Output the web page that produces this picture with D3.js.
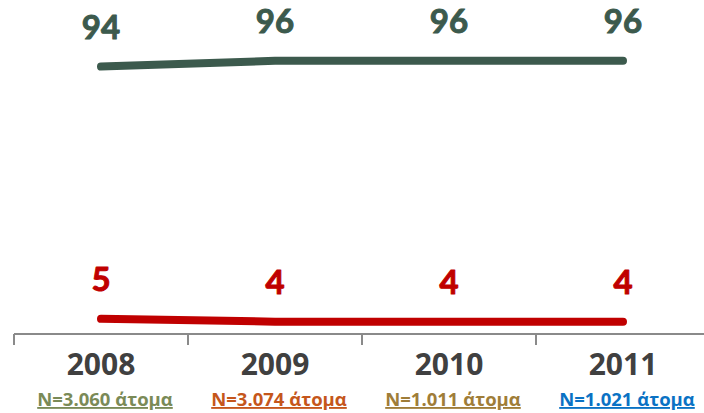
<!DOCTYPE html>
<html>
<head>
<meta charset="utf-8">
<script src="https://cdn.jsdelivr.net/npm/d3@7/dist/d3.min.js"></script>
<style>
  html, body { margin: 0; padding: 0; background: #ffffff; }
  svg { display: block; }
  text { font-family: "Open Sans", Lato, "DejaVu Sans", sans-serif; font-weight: 700; }
  text.value { font-family: Lato, "Open Sans", sans-serif; }
</style>
</head>
<body>
<svg id="chart" width="704" height="413"></svg>
<script>
// Survey years and sample sizes
const years = ["2008", "2009", "2010", "2011"];
const sampleLabels = ["N=3.060 άτομα", "N=3.074 άτομα", "N=1.011 άτομα", "N=1.021 άτομα"];
const sampleColors = ["#7a8a57", "#c5561b", "#9f7d38", "#0a72c4"];

// Share of answers (%) per year
const seriesYes = [94, 96, 96, 96];
const seriesNo = [5, 4, 4, 4];
const seriesColors = ["#3c5a4d", "#c00000"];

const svg = d3.select("#chart");
const W = 704, H = 413;

const x = d3.scaleBand().domain(years).range([14, 710]).padding(0);
const y = d3.scaleLinear().domain([0, 100]).range([333, 49.5]);
const cx = d => x(d) + x.bandwidth() / 2;

// Category axis: baseline with ticks at band boundaries
const axisColor = "#8a8a8a";
const axisY = 334;
svg.append("line")
  .attr("x1", 14).attr("x2", W)
  .attr("y1", axisY).attr("y2", axisY)
  .attr("stroke", axisColor).attr("stroke-width", 2);

const boundaries = years.map(d => x(d)).concat([x.range()[1]]);
svg.selectAll(".tick")
  .data(boundaries)
  .join("line")
  .attr("class", "tick")
  .attr("x1", d => d).attr("x2", d => d)
  .attr("y1", axisY).attr("y2", axisY + 11)
  .attr("stroke", axisColor).attr("stroke-width", 2);

// Year labels
svg.selectAll(".year")
  .data(years)
  .join("text")
  .attr("class", "year")
  .attr("x", d => cx(d))
  .attr("y", 375)
  .attr("text-anchor", "middle")
  .attr("font-size", 30)
  .attr("fill", "#404040")
  .text(d => d);

// Sample size labels, underlined
svg.selectAll(".sample")
  .data(years)
  .join("text")
  .attr("class", "sample")
  .attr("x", d => cx(d) + 4)
  .attr("y", 406)
  .attr("text-anchor", "middle")
  .attr("font-size", 18.5)
  .attr("fill", (d, i) => sampleColors[i])
  .attr("text-decoration", "underline")
  .text((d, i) => sampleLabels[i]);

// Lines and value labels
const line = d3.line()
  .x((d, i) => cx(years[i]))
  .y(d => y(d));

[seriesYes, seriesNo].forEach((vals, s) => {
  svg.append("path")
    .datum(vals)
    .attr("d", line)
    .attr("fill", "none")
    .attr("stroke", seriesColors[s])
    .attr("stroke-width", 8)
    .attr("stroke-linecap", "round")
    .attr("stroke-linejoin", "round");

  svg.selectAll(".val" + s)
    .data(vals)
    .join("text")
    .attr("class", "value val" + s)
    .attr("x", (d, i) => cx(years[i]))
    .attr("y", d => y(d) - 28)
    .attr("text-anchor", "middle")
    .attr("font-size", 33)
    .attr("fill", seriesColors[s])
    .attr("stroke", seriesColors[s])
    .attr("stroke-width", 1)
    .attr("stroke-linejoin", "round")
    .text(d => d);
});
</script>
</body>
</html>
